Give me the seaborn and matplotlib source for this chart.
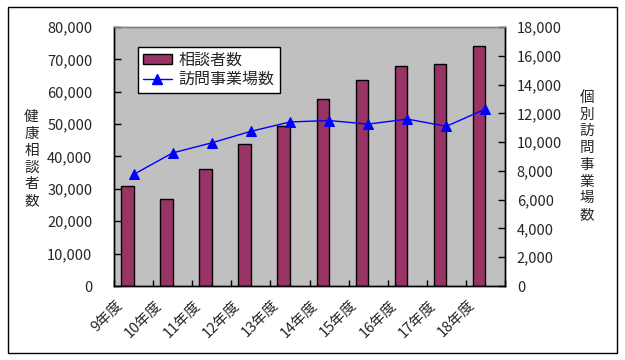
import numpy as np
import matplotlib
matplotlib.use('Agg')
import matplotlib.pyplot as plt
import seaborn as sns
from matplotlib.patches import Rectangle, Patch
from matplotlib.lines import Line2D
from matplotlib.ticker import MultipleLocator, FuncFormatter
from matplotlib.transforms import ScaledTranslation

# データ
years = ['9年度', '10年度', '11年度', '12年度', '13年度',
         '14年度', '15年度', '16年度', '17年度', '18年度']
consult = [31000, 26900, 36100, 43900, 49400, 57800, 63600, 67900, 68600, 74100]
visits = [7750, 9250, 9950, 10750, 11400, 11500, 11250, 11600, 11100, 12300]

bar_color = '#993366'
line_color = '#0000FF'

sns.set_style('white')
plt.rcParams['font.family'] = ['Noto Sans CJK JP', 'DejaVu Sans']
plt.rcParams['font.size'] = 10.5

fig = plt.figure(figsize=(6.25, 3.6), dpi=100)
ax = fig.add_axes([114 / 625, 1 - 286 / 360, 391 / 625, 259 / 360])
ax.set_facecolor('#C0C0C0')

pos = np.arange(len(years))
# 棒は項目の中心より左側にずらす (Excel の集合縦棒と同じ配置)
sns.barplot(x=pos - 0.16, y=consult, native_scale=True, width=0.32,
            color=bar_color, saturation=1, edgecolor='black', linewidth=1,
            ax=ax)

ax2 = ax.twinx()
sns.lineplot(x=pos, y=visits, ax=ax2, color=line_color, marker='^',
             markersize=6.5, markeredgecolor=line_color, linewidth=1,
             legend=False)

ax.set_xlim(-0.5, len(years) - 0.5)
ax.set_ylim(0, 80000)
ax2.set_ylim(0, 18000)

fmt = FuncFormatter(lambda v, p: f'{v:,.0f}')
ax.yaxis.set_major_locator(MultipleLocator(10000))
ax.yaxis.set_major_formatter(fmt)
ax2.yaxis.set_major_locator(MultipleLocator(2000))
ax2.yaxis.set_major_formatter(fmt)
ax.tick_params(axis='y', direction='in', length=5, width=1, color='black',
               pad=15.5, labelsize=10.5, left=True)
ax2.tick_params(axis='y', direction='in', length=5, width=1, color='black',
                pad=8.5, labelsize=10.5, right=True)

# 区切りの目盛りと項目名
ax.set_xticks(np.arange(-0.5, len(years), 1))
ax.set_xticklabels([])
ax.tick_params(axis='x', which='major', direction='in', length=4, width=1,
               color='black', bottom=True)
ax.set_xticks(pos, minor=True)
ax.set_xticklabels(years, minor=True, rotation=45, ha='right', va='center',
                   rotation_mode='anchor', fontsize=10.5)
ax.tick_params(axis='x', which='minor', length=0, pad=12)
shift = ScaledTranslation(-13.5 / 100, 0, fig.dpi_scale_trans)
for lab in ax.get_xticklabels(minor=True):
    lab.set_transform(lab.get_transform() + shift)

ax.set_xlabel('')
ax.set_ylabel('')
ax2.set_ylabel('')

for a in (ax, ax2):
    for s in a.spines.values():
        s.set_color('black')
        s.set_linewidth(1)
    a.spines['top'].set_color('#808080')

handles = [Patch(facecolor=bar_color, edgecolor='black', linewidth=1),
           Line2D([], [], color=line_color, marker='^', markersize=6.5, linewidth=1)]
leg = ax2.legend(handles, ['相談者数', '訪問事業場数'], loc='upper left',
                 bbox_to_anchor=(24 / 391, (286 - 47) / 259), borderaxespad=0,
                 fontsize=11.5, frameon=True, fancybox=False, framealpha=1,
                 edgecolor='black', handlelength=1.8, handleheight=0.55,
                 handletextpad=0.45, labelspacing=0.15, borderpad=0.3)
leg.get_frame().set_linewidth(1)

fig.text(31.5 / 625, 1 - 159 / 360, '\n'.join('健康相談者数'), ha='center',
         va='center', fontsize=10.5, linespacing=1.25)
fig.text(587 / 625, 1 - 156.5 / 360, '\n'.join('個別訪問事業場数'), ha='center',
         va='center', fontsize=10.5, linespacing=1.25)

fig.add_artist(Rectangle((8 / 625, 1 - 353 / 360), 609 / 625, 346 / 360,
                         transform=fig.transFigure, fill=False,
                         edgecolor='black', linewidth=1))

fig.savefig('out.png', dpi=100, facecolor='white')
